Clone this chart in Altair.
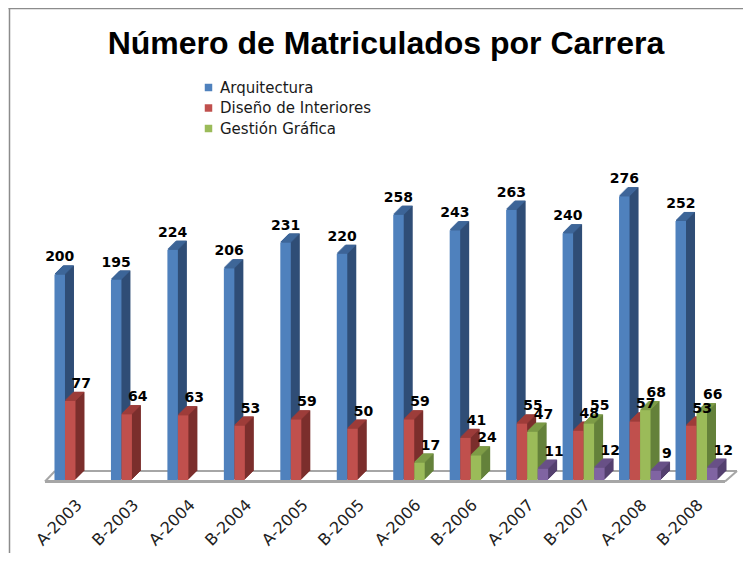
import altair as alt
import pandas as pd

categorias = ["A-2003", "B-2003", "A-2004", "B-2004", "A-2005", "B-2005",
              "A-2006", "B-2006", "A-2007", "B-2007", "A-2008", "B-2008"]
arquitectura = [200, 195, 224, 206, 231, 220, 258, 243, 263, 240, 276, 252]
diseno = [77, 64, 63, 53, 59, 50, 59, 41, 55, 48, 57, 53]
gestion = [None, None, None, None, None, None, 17, 24, 47, 55, 68, 66]
serie4 = [None, None, None, None, None, None, None, None, 11, 12, 9, 12]

series = ["Arquitectura", "Diseño de Interiores", "Gestión Gráfica", "Serie 4"]
valores = [arquitectura, diseno, gestion, serie4]
front_col = ["#4F81BD", "#C0504D", "#9BBB59", "#8064A2"]
side_col = ["#2F4D76", "#7B2E2C", "#64813A", "#54406F"]
top_col = ["#3E6699", "#9E3D3A", "#7E9C47", "#6A5289"]

rows = []
for s, vals in zip(series, valores):
    for c, v in zip(categorias, vals):
        if v is not None:
            rows.append({"categoria": c, "serie": s, "valor": v})
df = pd.DataFrame(rows)
one = pd.DataFrame({"k": [0]})

W, H = 682, 330
BAR = 10.5
DEPTH = 9
offsets = [-15.75, -5.25, 5.25, 15.75]
label_dx = [0, 11, 11, 11]

x_enc = alt.X("categoria:N", sort=categorias,
              scale=alt.Scale(paddingInner=0, paddingOuter=0.04),
              axis=alt.Axis(title=None, labelAngle=-45, labelAlign="right",
                            labelBaseline="middle", domain=False, ticks=False,
                            labelPadding=22, labelOffset=4, labelFont="DejaVu Sans",
                            labelFontSize=16, labelColor="#222222", grid=False))
y_scale = alt.Scale(domain=[0, 321], nice=False, zero=True)
y_enc = alt.Y("valor:Q", scale=y_scale, axis=None)

layers = []

# frame (left and top edges)
layers.append(alt.Chart(one).mark_rule(color="#8C8C8C", strokeWidth=1.5).encode(
    x=alt.value(-35.5), y=alt.value(-142), y2=alt.value(H + 90)))
layers.append(alt.Chart(one).mark_rule(color="#8C8C8C", strokeWidth=1.5).encode(
    x=alt.value(-36.5), x2=alt.value(W + 20), y=alt.value(-141.5)))

# floor
floor_c = "#A6A6A6"
layers.append(alt.Chart(one).mark_rule(color=floor_c, strokeWidth=2).encode(
    x=alt.value(10), x2=alt.value(692), y=alt.value(H - 9)))
layers.append(alt.Chart(one).mark_rule(color=floor_c, strokeWidth=2).encode(
    x=alt.value(0), x2=alt.value(10), y=alt.value(H + 1.5), y2=alt.value(H - 9)))
layers.append(alt.Chart(one).mark_rule(color=floor_c, strokeWidth=2).encode(
    x=alt.value(680), x2=alt.value(692), y=alt.value(H + 1.5), y2=alt.value(H - 9)))
layers.append(alt.Chart(one).mark_rule(color=floor_c, strokeWidth=3).encode(
    x=alt.value(0), x2=alt.value(680), y=alt.value(H + 1.5)))

legend_series = series[:3]
color_scale = alt.Scale(domain=legend_series, range=front_col[:3])

for i, s in enumerate(series):
    base = alt.Chart(df).transform_filter(alt.datum.serie == s)
    off = offsets[i]
    # side / silhouette of the prism
    for k in range(1, DEPTH + 1):
        layers.append(base.mark_bar(width=BAR, color=side_col[i], xOffset=off + k,
                                    yOffset=-k, y2Offset=-k).encode(
            x=x_enc, y=y_enc, y2=alt.datum(0)))
    # top face
    for k in range(0, DEPTH):
        layers.append(base.mark_bar(width=BAR, color=top_col[i], xOffset=off + k + 0.5,
                                    yOffset=-min(k + 1.5, DEPTH), y2Offset=-k).encode(
            x=x_enc, y=y_enc, y2=alt.Y2("valor:Q")))
    # front face
    if i < 3:
        layers.append(base.mark_bar(width=BAR, xOffset=off).encode(
            x=x_enc, y=y_enc, y2=alt.datum(0),
            color=alt.Color("serie:N", scale=color_scale,
                            legend=alt.Legend(title=None))))
    else:
        layers.append(base.mark_bar(width=BAR, xOffset=off, color=front_col[i]).encode(
            x=x_enc, y=y_enc, y2=alt.datum(0)))

for i, s in enumerate(series):
    base = alt.Chart(df).transform_filter(alt.datum.serie == s)
    layers.append(base.mark_text(font="DejaVu Sans", fontWeight="bold", fontSize=14,
                                 baseline="alphabetic", align="center", color="#000000",
                                 xOffset=offsets[i] + label_dx[i], dy=-13).encode(
        x=x_enc, y=y_enc, text=alt.Text("valor:Q")))

chart = alt.layer(*layers).properties(
    width=W, height=H,
    background="white",
    autosize=alt.AutoSizeParams(type="none"),
    padding={"left": 37, "top": 142, "right": 16, "bottom": 73},
    title=alt.TitleParams("Número de Matriculados por Carrera", font="Liberation Sans",
                          fontSize=32, fontWeight="bold", color="#000000",
                          anchor="middle", frame="group", baseline="alphabetic",
                          offset=-79),
).configure_view(stroke="transparent", strokeWidth=0).configure_legend(
    orient="none", legendX=156, legendY=-70, symbolType="square", symbolSize=56,
    symbolStrokeWidth=0, labelFont="DejaVu Sans", labelFontSize=15,
    labelColor="#1A1A1A", rowPadding=4.5, labelOffset=4, padding=0
)

chart.save("out.html", embed_options={"renderer": "svg", "actions": False})
